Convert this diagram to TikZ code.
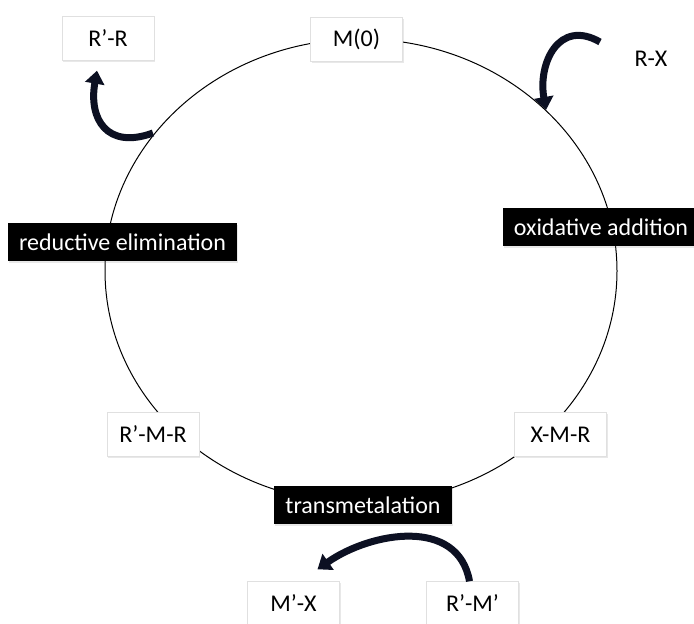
\documentclass[tikz,border=0pt]{standalone}
\usepackage{fontspec}
\setmainfont{Carlito}
\usetikzlibrary{arrows.meta,shadows}
\definecolor{arrowink}{RGB}{12,16,34}
\tikzset{
    species/.style={draw=black!12,fill=white,minimum width=92pt,minimum height=44pt,
        font=\fontsize{24}{28}\selectfont,
        drop shadow={opacity=0.18,shadow xshift=1pt,shadow yshift=-2pt}},
    stepname/.style={fill=black,text=white,minimum height=38pt,inner xsep=11pt,
        font=\fontsize{24}{28}\selectfont,
        drop shadow={opacity=0.18,shadow xshift=1pt,shadow yshift=-2pt}},
    curly/.style={draw=arrowink,line width=7pt,-{Triangle[width=19pt,length=13pt]}}
}
\begin{document}
\begin{tikzpicture}[x=1pt,y=1pt]
        \useasboundingbox (0,0) rectangle (694,624);
        \fill[white] (0,0) rectangle (694,624);
        \draw[line width=1pt] (361,353) ellipse [x radius=256pt,y radius=232pt];
        \node[species] (m0) at (356.5,585) {M(0)};
        \node[species] (rr) at (108,585.5) {R’-R};
        \node (rx) at (651,565) {\fontsize{24}{28}\selectfont R-X};
        \node[species] (rmr) at (153,189.5) {R’-M-R};
        \node[species] (xmr) at (560.5,189.5) {X-M-R};
        \node[species] (mx) at (293.5,20.5) {M’-X};
        \node[species] (rm) at (472.5,20.5) {R’-M’};
        \node[stepname] (redel) at (122.5,382) {reductive elimination};
        \node[stepname] (oxadd) at (601,397) {oxidative addition};
        \node[stepname] (trans) at (363,119) {transmetalation};
        \coordinate (rr-out) at (153,491);
        \coordinate (rr-in) at ([xshift=-11pt,yshift=-10pt]rr.south);
        \coordinate (rx-out) at ([xshift=-51pt,yshift=17pt]rx.center);
        \coordinate (rx-in) at (546,514);
        \coordinate (rm-out) at ([xshift=-3pt]rm.north);
        \coordinate (mx-in) at ([xshift=24pt,yshift=12pt]mx.north);
        \draw[curly] (rr-out) to[out=200,in=260,looseness=1.5] (rr-in);
        \draw[curly] (rx-out) to[out=150,in=100,looseness=1.4] (rx-in);
        \draw[curly] (rm-out) to[out=100,in=35,looseness=1.1] (mx-in);
    \end{tikzpicture}
\end{document}
